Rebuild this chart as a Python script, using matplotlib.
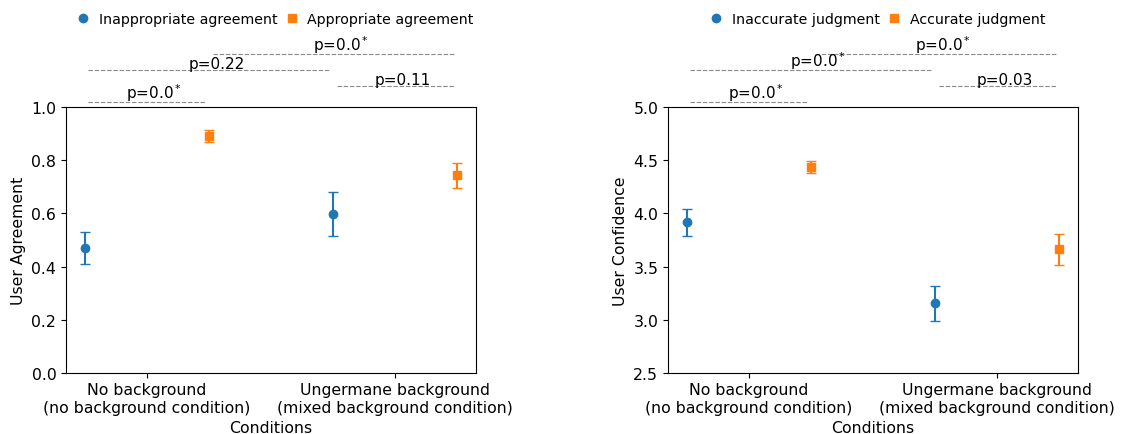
import matplotlib
matplotlib.use("Agg")
import matplotlib.pyplot as plt
from matplotlib.lines import Line2D
import numpy as np

plt.rcParams['font.family'] = ['DejaVu Sans']

categories = ["No background\n(no background condition)",
              "Ungermane background\n(mixed background condition)"]

# Left panel: user agreement
agree_inappr = [0.471, 0.598]
agree_inappr_lo = [0.411, 0.515]
agree_inappr_hi = [0.531, 0.682]
agree_appr = [0.893, 0.744]
agree_appr_lo = [0.869, 0.696]
agree_appr_hi = [0.916, 0.789]
agree_pvals = ["p=0.0$^*$", "p=0.11", "p=0.22", "p=0.0$^*$"]

# Right panel: user confidence
conf_inacc = [3.922, 3.154]
conf_inacc_lo = [3.790, 2.987]
conf_inacc_hi = [4.045, 3.320]
conf_acc = [4.438, 3.662]
conf_acc_lo = [4.381, 3.514]
conf_acc_hi = [4.494, 3.807]
conf_pvals = ["p=0.0$^*$", "p=0.03", "p=0.0$^*$", "p=0.0$^*$"]

BLUE = "#1f77b4"
ORANGE = "#ff7f0e"

fig = plt.figure(figsize=(11.24, 4.35), dpi=100)
axL = fig.add_axes([66/1124, (435-373.7)/435, 410/1124, 265.4/435])
axR = fig.add_axes([668/1124, (435-373.7)/435, 410/1124, 265.4/435])


def panel(ax, m1, lo1, hi1, m2, lo2, hi2, pvals, ylim, yticks, ylabel, names):
    x = np.arange(len(categories))
    xa = x - 0.25
    xb = x + 0.25
    e1 = [np.array(m1) - np.array(lo1), np.array(hi1) - np.array(m1)]
    e2 = [np.array(m2) - np.array(lo2), np.array(hi2) - np.array(m2)]
    ax.errorbar(xa, m1, yerr=e1, fmt='o', color=BLUE, ms=6, capsize=3.6, lw=1.5)
    ax.errorbar(xb, m2, yerr=e2, fmt='s', color=ORANGE, ms=6, capsize=3.6, lw=1.5)
    ax.set_xticks(x)
    ax.set_xticklabels(categories, fontsize=11.3)
    ax.set_xlim(-0.325, 1.325)
    ax.set_ylim(*ylim)
    ax.set_yticks(yticks)
    ax.tick_params(axis='y', labelsize=11.3)
    ax.set_ylabel(ylabel, fontsize=11.3)
    ax.set_xlabel("Conditions", fontsize=11.3, labelpad=3.5)
    rng = ylim[1] - ylim[0]
    pairs = [(xa[0], xb[0]), (xa[1], xb[1]), (xa[0], xa[1]), (xb[0], xb[1])]
    for k, ((p, q), txt) in enumerate(zip(pairs, pvals)):
        yl = ylim[1] + rng * (0.02 + 0.06 * k)
        ax.plot([p + 0.015, q - 0.015], [yl, yl], ls=(0, (4, 1.6)), color='#8a8a8a',
                lw=0.8, clip_on=False)
        ax.text((p + q) / 2 + 0.03, yl - rng * 0.004, txt, ha='center', va='bottom',
                fontsize=11, clip_on=False)
    handles = [Line2D([], [], marker='o', ls='none', color=BLUE, ms=6),
               Line2D([], [], marker='s', ls='none', color=ORANGE, ms=6)]
    ax.legend(handles, names, loc='center', bbox_to_anchor=(0.51, 1.333), ncol=2,
              frameon=False, fontsize=10.2, handlelength=1.0, handletextpad=0.6,
              columnspacing=0.5)


panel(axL, agree_inappr, agree_inappr_lo, agree_inappr_hi,
      agree_appr, agree_appr_lo, agree_appr_hi, agree_pvals,
      (0.0, 1.0), np.arange(0, 1.01, 0.2), "User Agreement",
      ["Inappropriate agreement", "Appropriate agreement"])
panel(axR, conf_inacc, conf_inacc_lo, conf_inacc_hi,
      conf_acc, conf_acc_lo, conf_acc_hi, conf_pvals,
      (2.5, 5.0), np.arange(2.5, 5.01, 0.5), "User Confidence",
      ["Inaccurate judgment", "Accurate judgment"])

fig.savefig("out.png", dpi=100)
